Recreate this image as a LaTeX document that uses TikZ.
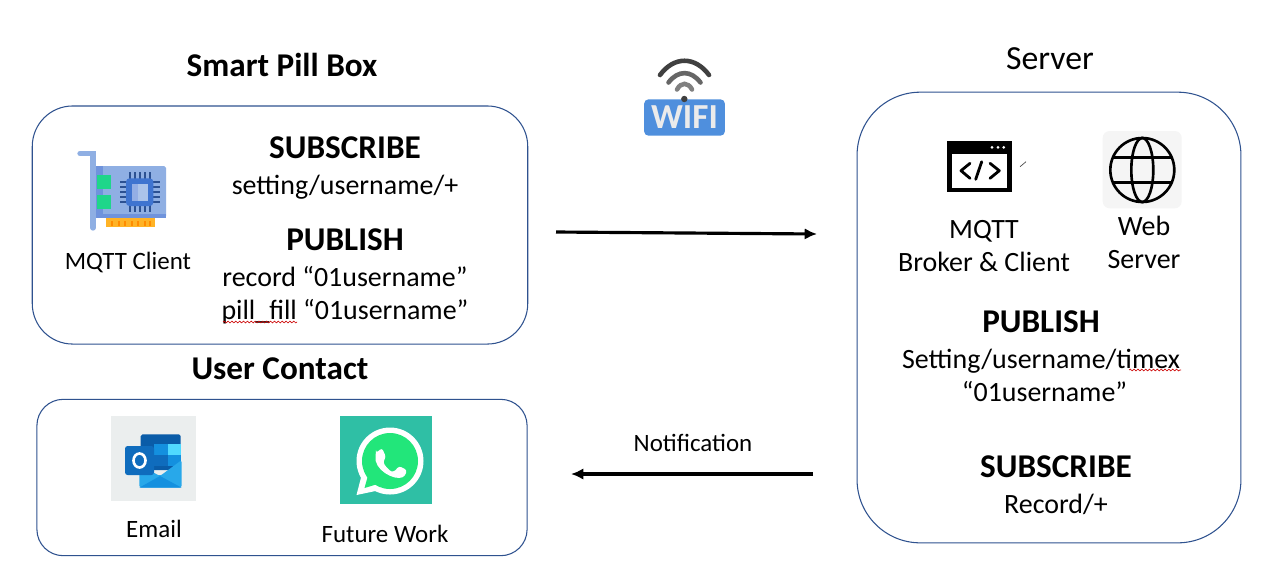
\documentclass[tikz,border=0pt]{standalone}
\usepackage{fontspec}
\setmainfont{Carlito}
\usetikzlibrary{positioning, arrows.meta, decorations.pathmorphing}
\definecolor{boxline}{HTML}{2F528F}
\definecolor{cardblue}{HTML}{8FAFE3}
\definecolor{carddark}{HTML}{6F93DC}
\definecolor{chipblue}{HTML}{3F74D0}
\definecolor{portgreen}{HTML}{1FD68A}
\definecolor{wifiblue}{HTML}{4F8FDD}
\definecolor{mailbg}{HTML}{EBEEEE}
\definecolor{mailblue}{HTML}{0F6CBD}
\definecolor{maildark}{HTML}{0A5CA8}
\definecolor{mailmid}{HTML}{1490DF}
\definecolor{maillight}{HTML}{50D9FF}
\definecolor{mailflap}{HTML}{28A8EA}
\definecolor{chatbg}{HTML}{2FBFA5}
\definecolor{chatgreen}{HTML}{22E67A}
\tikzset{
    panel/.style={rectangle, draw=boxline, line width=0.6pt, fill=white},
    heading/.style={inner sep=0pt, font=\fontsize{18.9}{20}\selectfont\bfseries, text height=13pt, text depth=3.5pt},
    bodyline/.style={inner sep=0pt, font=\fontsize{15.9}{18}\selectfont, text height=11.5pt, text depth=3.5pt},
    smallline/.style={inner sep=0pt, font=\fontsize{14.2}{16}\selectfont, text height=10.5pt, text depth=3pt},
    flow/.style={-{Latex[length=7pt,width=6.5pt]}, line width=1.8pt, black},
    squiggle/.style={draw=red!80!black, line width=0.35pt, decorate, decoration={snake, amplitude=0.5pt, segment length=2.2pt}},
    glyph/.style={line cap=round, line join=round},
}
\begin{document}
\begin{tikzpicture}[x=0.02cm, y=-0.02cm]
    \useasboundingbox (0,0) rectangle (1267,566);
    \fill[white] (0,0) rectangle (1267,566);
    % boxes
    \node [panel, rounded corners=23pt, minimum width=282pt, minimum height=135.5pt] (boxpill) at (280,225) {};
    \node [panel, rounded corners=15pt, minimum width=279pt, minimum height=89pt] (boxuser) at (282,477.5) {};
    \node [panel, rounded corners=36pt, minimum width=218.5pt, minimum height=256.5pt] (boxserver) at (1049,317.5) {};
    % titles
    \node [heading] (pilltitle) at (282,68) {Smart Pill Box};
    \node [heading] (usertitle) at (280,371) {User Contact};
    \node [inner sep=0pt, font=\fontsize{19.2}{20}\selectfont] (servertitle) at (1050,59) {Server};
    % pill box text
    \node [heading] (pillsub) at (345,150) {SUBSCRIBE};
    \node [bodyline] (pillsubtopic) [below=5.3pt of pillsub] {setting/username/+};
    \node [heading] (pillpub) at (345,242) {PUBLISH};
    \node [bodyline] (pillrecord) [below=5pt of pillpub] {record “01username”};
    \node [bodyline] (pillfill) [below=3.3pt of pillrecord] {pill\_fill “01username”};
    \node [smallline] (mqttclient) at (128,263) {MQTT Client};
    % server text
    \node [bodyline] (mqttname) at (984,231) {MQTT};
    \node [bodyline] (mqttrole) [below=3.8pt of mqttname] {Broker \& Client};
    \node [bodyline] (webname) at (1144,228) {Web};
    \node [bodyline] (webrole) [below=3.8pt of webname] {Server};
    \node [heading] (srvpub) at (1041,324) {PUBLISH};
    \node [bodyline] (srvtopic) [below=5.3pt of srvpub] {Setting/username/timex};
    \node [bodyline, xshift=2pt] (srvuser) [below=3.2pt of srvtopic] {“01username”};
    \node [heading] (srvsub) at (1056,469) {SUBSCRIBE};
    \node [bodyline] (srvrecord) [below=5.3pt of srvsub] {Record/+};
    % user contact text
    \node [smallline] (emailname) at (154,531) {Email};
    \node [smallline] (futurework) at (385,536) {Future Work};
    \node [smallline] (notifyname) at (693,445) {Notification};
    % arrows
    \coordinate (wifistart) at (556,232);
    \coordinate (wifiend) at (817,234);
    \coordinate (notifystart) at (813,474);
    \coordinate (notifyend) at (571,474);
    \draw[flow] (wifistart) -- (wifiend);
    \draw[flow] (notifystart) -- (notifyend);
    % spelling marks
    \coordinate (fillmarkl) at (223,322);
    \coordinate (fillmarkr) at (297,322);
    \coordinate (timexmarkl) at (1129,370);
    \coordinate (timexmarkr) at (1181,370);
    \path[squiggle] (fillmarkl) -- (fillmarkr);
    \path[squiggle] (timexmarkl) -- (timexmarkr);
    % network card
    \draw[cardblue, line width=3pt, line cap=round] (80,153.5) -- (93,153.5) -- (93,228);
    \fill[cardblue, rounded corners=1pt] (93,166) rectangle (166,217.5);
    \fill[carddark] (96,166) rectangle (102.5,217.5);
    \fill[carddark] (96,213.5) rectangle (166,217.5);
    \fill[portgreen] (96.7,175) rectangle (110.7,188.5);
    \fill[portgreen] (96.7,195) rectangle (110.7,209);
    \fill[orange!70!yellow!85] (106,217.5) rectangle (154.7,226.7);
    \foreach \pinx in {112,118.5,125,131.5,138,144.5,150}
        \fill[orange!90!yellow] (\pinx-1,220.5) rectangle (\pinx+1,226);
    \foreach \pinpos in {-10,-5,0,5,10} {
        \fill[chipblue!70!black] (139.7+\pinpos-1,172) rectangle (139.7+\pinpos+1,212);
        \fill[chipblue!70!black] (119.5,192+\pinpos-1) rectangle (159.5,192+\pinpos+1);
    }
    \fill[chipblue, rounded corners=2pt] (126,178.3) rectangle (153.3,206);
    \fill[carddark!75!white] (131.5,183.5) rectangle (137.5,200.5);
    \fill[cardblue!75!white] (137.5,183.5) rectangle (148,200.5);
    % wifi sign
    \node [fill=wifiblue, rounded corners=2.5pt, inner sep=0pt, minimum width=46pt, minimum height=20.7pt, text=black!8, font=\fontsize{20}{20}\selectfont\bfseries] (wifisign) at (684.5,117.5) {WIFI};
    \fill[black!75] (684.3,99) circle (3.2);
    \draw[black!75, line width=2.6pt, line cap=round] (660,75) .. controls (674,56) and (695,56) .. (709,75);
    \draw[black!60, line width=2.6pt, line cap=round] (668.5,82.5) .. controls (678,70) and (691,70) .. (700.5,82.5);
    \draw[black!50, line width=2.6pt, line cap=round] (677,89.5) .. controls (681,82) and (688,82) .. (692,89.5);
    % code window
    \fill[black] (947.3,140.7) rectangle (1012.3,192);
    \fill[white] (952.3,154) rectangle (1007.3,187.7);
    \foreach \dotx in {992,998,1003.7}
        \fill[white] (\dotx,147.3) circle (1.5);
    \draw[glyph, line width=1.6pt] (970,163.3) -- (961,170.7) -- (970,178.3);
    \draw[glyph, line width=1.6pt] (981.7,161.7) -- (975.7,179.3);
    \draw[glyph, line width=1.6pt] (990,163.3) -- (999.3,170.7) -- (990,178.3);
    \draw[black!70, line width=0.4pt] (1020,166.7) -- (1026,161.7);
    % globe
    \fill[black!4, rounded corners=4pt] (1102.7,131) rectangle (1181.7,208.3);
    \draw[line width=1.5pt] (1142.3,170) circle (32);
    \draw[line width=1.5pt] (1142.3,170) ellipse (11 and 32);
    \draw[line width=1.5pt] (1113,157.7) -- (1171.5,157.7);
    \draw[line width=1.5pt] (1113,182.3) -- (1171.5,182.3);
    % mail icon
    \fill[mailbg] (111,416) rectangle (196,501);
    \fill[maildark, rounded corners=1pt] (140.7,434.3) rectangle (180.7,470);
    \fill[mailmid] (154,444) rectangle (167.5,455);
    \fill[maillight] (167.5,444) rectangle (180.7,455);
    \fill[mailblue] (154,455) rectangle (167.5,466);
    \fill[mailmid] (167.5,455) rectangle (180.7,466);
    \fill[mailflap, rounded corners=1pt] (139.3,465) -- (139.3,487.7) -- (181.7,487.7) -- (181.7,460) -- (160,476) -- cycle;
    \fill[mailmid] (139.3,487.7) -- (160,476) -- (181.7,487.7) -- cycle;
    \fill[mailblue, rounded corners=1.5pt] (125,446) rectangle (154,475);
    \draw[white, line width=1.5pt] (139.5,460.5) ellipse (6 and 7);
    % chat icon
    \fill[chatbg] (340,416) rectangle (432,504);
    \fill[white] (356.5,495) -- (364,466) -- (385,489) -- cycle;
    \fill[white] (390,461) circle (33.5);
    \fill[chatgreen] (364.5,488) -- (369,472) -- (381,483) -- cycle;
    \fill[chatgreen] (390,461) circle (28);
    \fill[white, rounded corners=1.5pt] (376,453) -- (382,448) -- (386,457) -- (383,462) .. controls (386,467) and (390,471) .. (394,472) -- (399,466) -- (407,470) -- (405,476) .. controls (395,481) and (373,470) .. cycle;
\end{tikzpicture}
\end{document}
